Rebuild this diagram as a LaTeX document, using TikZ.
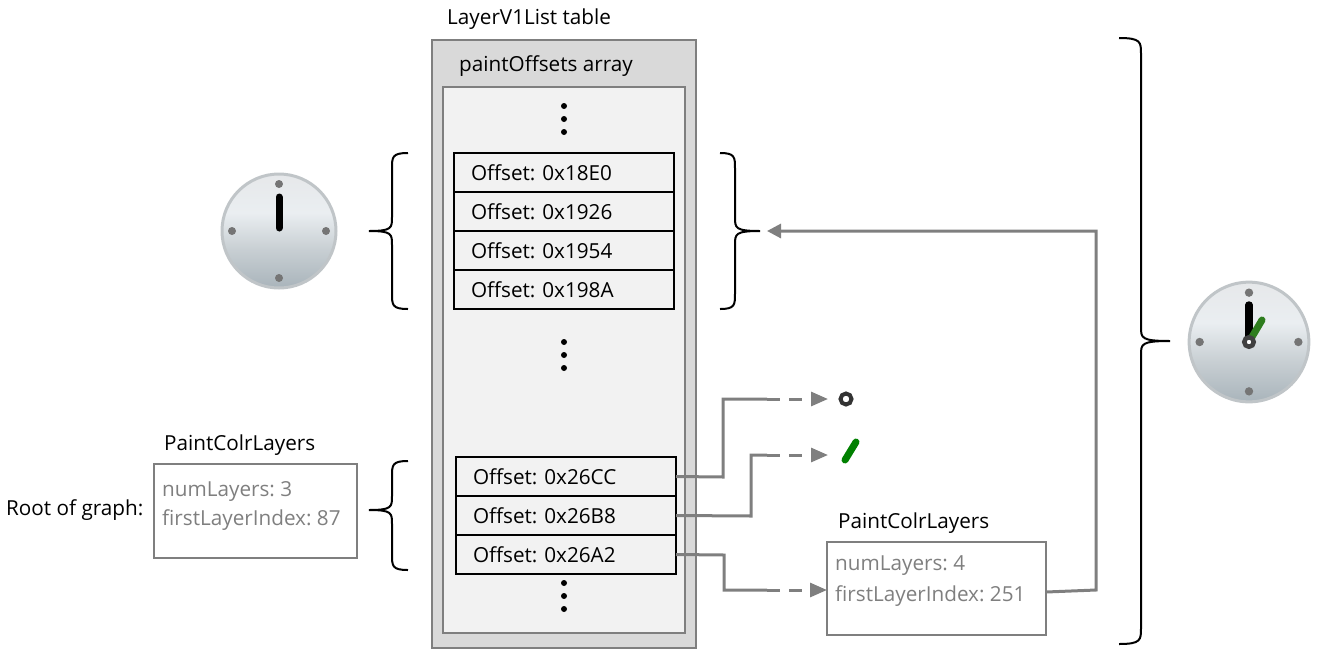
\documentclass[tikz,border=0pt]{standalone}
\usepackage{fontspec}
\setmainfont{Open Sans}
\usetikzlibrary{positioning,arrows.meta}

\definecolor{linegray}{HTML}{7F7F7F}
\definecolor{tablegray}{HTML}{D9D9D9}
\definecolor{arraygray}{HTML}{F2F2F2}
\definecolor{handgreen}{HTML}{008000}
\definecolor{clockgreen}{HTML}{2E7D1E}
\definecolor{clockrim}{HTML}{C0C5C8}
\definecolor{clocktick}{HTML}{757575}
\definecolor{clockbottom}{HTML}{A9B4BB}
\definecolor{clockmiddle}{HTML}{C8CFD3}
\definecolor{clocklight}{HTML}{EAEEF1}
\definecolor{clocktop}{HTML}{E6E8EA}

\pgfdeclareverticalshading{clockshade}{100bp}{
    color(0bp)=(clockbottom); color(25bp)=(clockbottom); color(42bp)=(clockmiddle);
    color(58bp)=(clocklight); color(75bp)=(clocktop); color(100bp)=(clocktop)}

\tikzset{
    rowbox/.style={
        draw=black,
        line width=2pt,
        outer sep=0pt,
        inner xsep=17pt,
        inner ysep=0pt,
        minimum height=39pt,
        text width=186pt,
        align=left,
        font=\fontsize{20.7}{24}\selectfont
    },
    caption/.style={
        anchor=west,
        inner sep=0pt,
        font=\fontsize{20.7}{24}\selectfont
    },
    greytext/.style={caption, text=linegray},
    link/.style={draw=linegray, line width=3pt},
    linkdash/.style={link, dash pattern=on 13pt off 9pt, -{Triangle[length=17pt,width=14pt]}},
    curly/.style={draw=black, line width=2pt},
    clockface/.pic={
        \shade[shading=clockshade] (0,0) circle (57);
        \draw[draw=clockrim, line width=3pt] (0,0) circle (57);
        \foreach \a/\b in {0/-47, 0/47, -47/0, 47/0}
            \fill[clocktick] (\a,\b) circle (4);
    }
}

% tip x, spine x, end x, top y, middle y, bottom y
\newcommand{\curlybrace}[6]{
    \draw[curly] (#3,#4) .. controls (#2,#4) and (#2,#4+4) .. (#2,#4+16)
        -- (#2,#5-14) .. controls (#2,#5-3) and (#2,#5) .. (#1,#5)
        .. controls (#2,#5) and (#2,#5+3) .. (#2,#5+14)
        -- (#2,#6-16) .. controls (#2,#6-4) and (#2,#6) .. (#3,#6);
}

\begin{document}
\frenchspacing
\begin{tikzpicture}[x=1pt, y=-1pt]
    \useasboundingbox (0,0) rectangle (1318,657);

    % Table
    \node[caption] (tabletitle) at (447,19) {LayerV1List table};
    \draw[draw=linegray, fill=tablegray, line width=2pt] (432,40) rectangle (696,648);
    \node[caption] (arraytitle) at (459,66) {paintOffsets array};
    \draw[draw=linegray, fill=arraygray, line width=2pt] (443,87) rectangle (685,633);

    \node[rowbox, anchor=north west] (a) at (454,153) {Offset: 0x18E0};
    \node[rowbox, below=0pt of a] (b) {Offset: 0x1926};
    \node[rowbox, below=0pt of b] (c) {Offset: 0x1954};
    \node[rowbox, below=0pt of c] (d) {Offset: 0x198A};
    \node[rowbox, anchor=north west] (e) at (456,457) {Offset: 0x26CC};
    \node[rowbox, below=0pt of e] (f) {Offset: 0x26B8};
    \node[rowbox, below=0pt of f] (g) {Offset: 0x26A2};

    \foreach \y in {106,119,132,342,355,368,583,596,609}
        \fill (564,\y) circle (3);

    % Braces
    \curlybrace{369}{392}{408}{153}{231}{309}
    \curlybrace{760}{735}{720}{153}{231}{309}
    \curlybrace{369}{392}{408}{461}{510}{570}
    \curlybrace{1170}{1141}{1119}{38}{341}{644}

    % Clocks
    \pic at (279,231) {clockface};
    \draw[line width=7pt, line cap=round] (279,197) -- (279,228);
    \pic[scale=1.05] at (1249,342) {clockface};
    \draw[line width=7.5pt, line cap=round] (1249,305) -- (1249,342);
    \draw[draw=clockgreen, line width=7pt, line cap=round] (1249,342) -- (1262,320);
    \draw[draw=black!75, fill=white, line width=4.5pt] (1249,342) circle (4.75);

    % Root paint
    \node[caption] (rootlabel) at (6,510) {Root of graph:};
    \node[caption] (roottitle) at (164,445) {PaintColrLayers};
    \node[draw=linegray, line width=2pt, outer sep=0pt, minimum width=203pt, minimum height=94pt, anchor=north west] (rootbox) at (154,464) {};
    \node[greytext] (rootnum) at (162,491) {numLayers: 3};
    \node[greytext] (rootfirst) at (162,520) {firstLayerIndex: 87};

    % Second paint
    \node[caption] (painttitle) at (838,523) {PaintColrLayers};
    \node[draw=linegray, line width=2pt, outer sep=0pt, minimum width=219pt, minimum height=93pt, anchor=north west] (paintbox) at (827,542) {};
    \node[greytext] (paintnum) at (835,566) {numLayers: 4};
    \node[greytext] (paintfirst) at (835,596) {firstLayerIndex: 251};

    % Targets
    \node[circle, draw=black!80, line width=4pt, fill=white, inner sep=0pt, minimum size=11pt] (ring) at (846,399) {};
    \draw[draw=handgreen, line width=7pt, line cap=round] (845,460) -- (856,442);
    \coordinate (ringarrow) at (828,399);
    \coordinate (slasharrow) at (828,455);
    \coordinate (boxarrow) at (827,590);
    \coordinate (bracearrow) at (767,231);
    \coordinate (ebend) at (767,399);
    \coordinate (fbend) at (767,455);
    \coordinate (gbend) at (767,590);

    % Edges
    \draw[link] (e.east) -- (723,477) -- (723,399) -- (ebend);
    \draw[linkdash] (ebend) -- (ringarrow);
    \draw[link] (f.east) -- (751,516) -- (751,455) -- (fbend);
    \draw[linkdash] (fbend) -- (slasharrow);
    \draw[link] (g.east) -- (724,555) -- (724,590) -- (gbend);
    \draw[linkdash] (gbend) -- (boxarrow);
    \draw[link, -{Triangle[length=14pt,width=14pt]}] (paintbox.east |- 0,592) -- (1096,590) -- (1096,231) -- (bracearrow);
\end{tikzpicture}
\end{document}
